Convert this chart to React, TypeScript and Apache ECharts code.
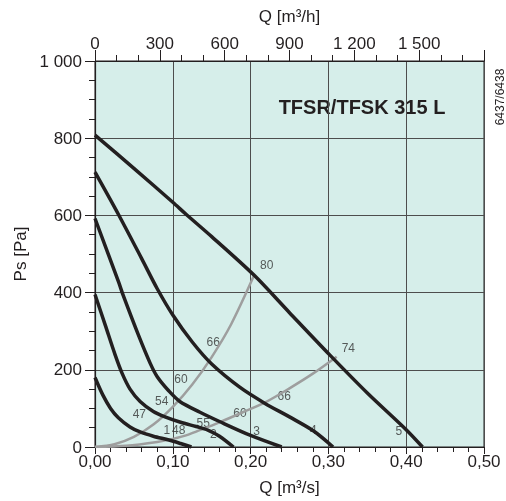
import React, { useEffect, useRef } from "react";
import * as echarts from "echarts";

// Fan curves: [Q m³/s, Ps Pa]
const fan1 = [[0, 180], [0.01, 135], [0.02, 100], [0.03, 76], [0.045, 52], [0.058, 39], [0.075, 28], [0.095, 18], [0.11, 9], [0.124, 0]];
const fan2 = [[0, 395], [0.0133, 315], [0.026, 238], [0.035, 190], [0.045, 150], [0.058, 118], [0.075, 92], [0.09, 78], [0.11, 64], [0.13, 53], [0.145, 44], [0.16, 28], [0.178, 0]];
const fan3 = [[0, 592], [0.0304, 427], [0.0364, 392], [0.056, 289], [0.0707, 218], [0.08, 182], [0.095, 145], [0.109, 118], [0.135, 90], [0.16, 66], [0.2, 30], [0.24, 0]];
const fan4 = [[0, 712], [0.03, 603], [0.06, 488], [0.08, 410], [0.1, 342], [0.125, 272], [0.15, 215], [0.186, 155], [0.2185, 113], [0.25, 78], [0.2806, 42], [0.306, 0]];
const fan5 = [[0, 808], [0.05, 722], [0.1, 634], [0.117, 603], [0.15, 545], [0.204, 446], [0.25, 348], [0.302, 238], [0.35, 140], [0.4, 45], [0.421, 0]];

// Grey curves
const grey1 = [[0, 0], [0.025, 7], [0.05, 26], [0.075, 58], [0.1, 104], [0.125, 162], [0.15, 233], [0.175, 318], [0.2048, 446]];
const grey2 = [[0, 0], [0.04, 3], [0.08, 13], [0.1, 21], [0.12, 32], [0.14, 48], [0.16, 64], [0.19, 90], [0.22, 117], [0.25, 152], [0.28, 190], [0.3106, 234]];

// Curve labels: [text, Q, Ps]
const curveLabels: [string, number, number][] = [
  ["80", 0.2207, 472], ["74", 0.3256, 257], ["66", 0.152, 271], ["60", 0.1105, 175],
  ["54", 0.0857, 118], ["47", 0.057, 85], ["66", 0.2433, 131], ["60", 0.1864, 88],
  ["55", 0.139, 63], ["48", 0.1075, 44], ["1", 0.0925, 44], ["2", 0.152, 33],
  ["3", 0.2078, 42], ["4", 0.2806, 45], ["5", 0.3907, 42],
];

const titleText = "TFSR/TFSK 315 L";
const codeText = "6437/6438";

const INK = "#231f20";
const FONT = "'Liberation Sans', Arial, sans-serif";

const thousands = (v: number) => String(v).replace(/\B(?=(\d{3})+(?!\d))/g, " ");

export default function App() {
  const ref = useRef<HTMLDivElement>(null);
  useEffect(() => {
    if (!ref.current) return;
    const chart = echarts.init(ref.current, null, { renderer: "svg" });
    const fanSeries = [fan1, fan2, fan3, fan4, fan5].map((d, i) => ({
      name: "fan" + (i + 1),
      type: "line",
      data: d,
      smooth: 0.3,
      showSymbol: false,
      symbol: "none",
      z: 4,
      lineStyle: { color: INK, width: 3.5 },
    }));
    const greySeries = [grey1, grey2].map((d, i) => ({
      name: "grey" + (i + 1),
      type: "line",
      data: d,
      smooth: 0.3,
      showSymbol: false,
      symbol: "none",
      z: 3,
      lineStyle: { color: "#9e9e9e", width: 2.5 },
    }));
    chart.setOption({
      animation: false,
      textStyle: { fontFamily: FONT },
      grid: {
        left: 95, top: 61, width: 389, height: 388,
        show: true, backgroundColor: "#d6eeea", borderColor: INK, borderWidth: 1,
      },
      xAxis: [
        {
          type: "value", min: 0, max: 0.5, interval: 0.1, position: "bottom",
          name: "Q [m³/s]", nameLocation: "middle", nameGap: 32,
          nameTextStyle: { fontSize: 17, color: INK, fontFamily: FONT },
          axisLine: { show: true, onZero: false, lineStyle: { color: INK, width: 1.2 } },
          axisTick: { show: true, length: 7, lineStyle: { color: INK } },
          minorTick: { show: true, splitNumber: 5, length: 5, lineStyle: { color: INK } },
          splitLine: { show: true, lineStyle: { color: "#4d4d4d", width: 1 } },
          axisLabel: {
            fontSize: 17, color: INK, margin: 6, fontFamily: FONT,
            showMinLabel: true, showMaxLabel: true,
            formatter: (v: number) => v.toFixed(2).replace(".", ","),
          },
        },
        {
          type: "value", min: 0, max: 1800, interval: 300, position: "top",
          name: "Q [m³/h]", nameLocation: "middle", nameGap: 36,
          nameTextStyle: { fontSize: 17, color: INK, fontFamily: FONT },
          axisLine: { show: true, onZero: false, lineStyle: { color: INK, width: 1.2 } },
          axisTick: { show: true, length: 11, lineStyle: { color: INK } },
          minorTick: { show: true, splitNumber: 3, length: 6, lineStyle: { color: INK } },
          splitLine: { show: false },
          axisLabel: {
            fontSize: 17, color: INK, margin: 9, fontFamily: FONT,
            showMinLabel: true, showMaxLabel: true,
            formatter: (v: number) => (v >= 1800 ? "" : thousands(v)),
          },
        },
      ],
      yAxis: {
        type: "value", min: 0, max: 1000, interval: 200,
        name: "Ps [Pa]", nameLocation: "middle", nameGap: 63,
        nameTextStyle: { fontSize: 17, color: INK, fontFamily: FONT },
        axisLine: { show: true, onZero: false, lineStyle: { color: INK, width: 1.2 } },
        axisTick: { show: true, length: 10, lineStyle: { color: INK } },
        minorTick: { show: true, splitNumber: 4, length: 6, lineStyle: { color: INK } },
        splitLine: { show: true, lineStyle: { color: "#4d4d4d", width: 1 } },
        axisLabel: {
          fontSize: 17, color: INK, margin: 13, fontFamily: FONT,
          showMinLabel: true, showMaxLabel: true,
          formatter: (v: number) => thousands(v),
        },
      },
      series: [
        ...greySeries,
        ...fanSeries,
        {
          name: "labels",
          type: "scatter",
          xAxisIndex: 0,
          symbolSize: 1,
          itemStyle: { color: "rgba(0,0,0,0)" },
          z: 2,
          data: curveLabels.map(([t, x, y]) => ({ name: t, value: [x, y] })),
          label: {
            show: true, position: "inside", formatter: (p: any) => p.name,
            fontSize: 12, color: "#333", fontFamily: FONT,
          },
        },
      ],
      graphic: [
        {
          type: "text", x: 362, y: 107,
          style: { text: titleText, font: `bold 20px ${FONT}`, fill: INK, align: "center", verticalAlign: "middle" },
        },
        {
          type: "text", x: 500, y: 97, rotation: Math.PI / 2,
          style: { text: codeText, font: `12px ${FONT}`, fill: INK, align: "center", verticalAlign: "middle" },
        },
      ],
    });
    return () => chart.dispose();
  }, []);
  return <div ref={ref} style={{ position: "fixed", left: 0, top: 0, width: 506, height: 501 }} />;
}
